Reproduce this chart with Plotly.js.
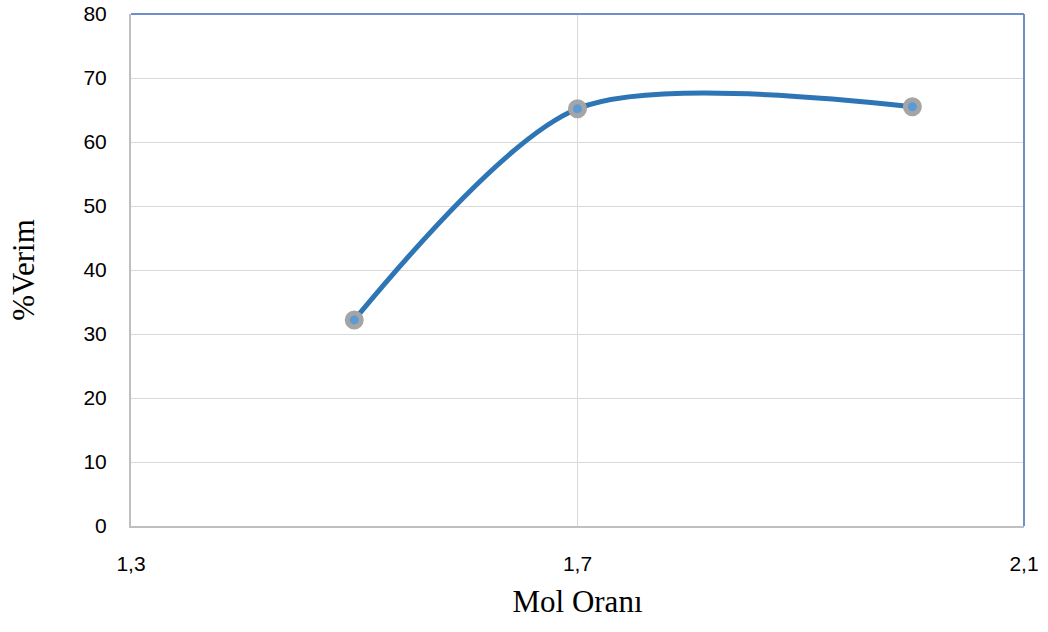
<!DOCTYPE html>
<html><head><meta charset="utf-8">
<script src="https://cdn.plot.ly/plotly-3.0.1.min.js"></script>
<style>body{margin:0;background:#fff}#c{width:1048px;height:632px}</style>
</head><body><div id="c"></div>
<script>
var molOrani = [1.5, 1.7, 2.0];
var verim = [32.2, 65.2, 65.5];
var xTicks = [1.3, 1.7, 2.1];
var yTicks = [0, 10, 20, 30, 40, 50, 60, 70, 80];

var trace = {
  x: molOrani, y: verim, mode: 'lines+markers', type: 'scatter',
  line: {shape: 'spline', smoothing: 0.8, color: '#2E75B6', width: 5},
  marker: {size: 14, color: '#5B9BD5', line: {color: '#A5A5A5', width: 5}},
  hoverinfo: 'x+y'
};
var layout = {
  width: 1048, height: 632,
  margin: {l: 131, r: 24, t: 14, b: 106},
  separators: ',.',
  showlegend: false,
  paper_bgcolor: '#fff', plot_bgcolor: '#fff',
  xaxis: {
    range: [1.3, 2.1], tickvals: xTicks, tickformat: '.1f',
    showgrid: true, gridcolor: '#d9d9d9', gridwidth: 1,
    showline: true, linecolor: '#bfbfbf', linewidth: 2, zeroline: false,
    ticks: 'outside', ticklen: 18, tickcolor: 'rgba(0,0,0,0)',
    tickfont: {family: 'Liberation Sans, Arial', size: 21, color: '#000'},
    title: {text: 'Mol Oranı', font: {family: 'Liberation Serif, Times New Roman', size: 31, color: '#000'}, standoff: 16}
  },
  yaxis: {
    range: [0, 80], tickvals: yTicks,
    showgrid: true, gridcolor: '#d9d9d9', gridwidth: 1,
    showline: true, linecolor: '#bfbfbf', linewidth: 2, zeroline: false,
    ticks: 'outside', ticklen: 18, tickcolor: 'rgba(0,0,0,0)',
    tickfont: {family: 'Liberation Sans, Arial', size: 21, color: '#000'},
    title: {text: '%Verim', font: {family: 'Liberation Serif, Times New Roman', size: 31, color: '#000'}, standoff: 40}
  },
  shapes: [
    {type: 'line', xref: 'paper', yref: 'paper', x0: 0, x1: 1, y0: 1, y1: 1, line: {color: '#6F8FCB', width: 2}},
    {type: 'line', xref: 'paper', yref: 'paper', x0: 1, x1: 1, y0: 0, y1: 1, line: {color: '#6F8FCB', width: 2}}
  ]
};
Plotly.newPlot('c', [trace], layout, {displayModeBar: false, staticPlot: true});
</script></body></html>
